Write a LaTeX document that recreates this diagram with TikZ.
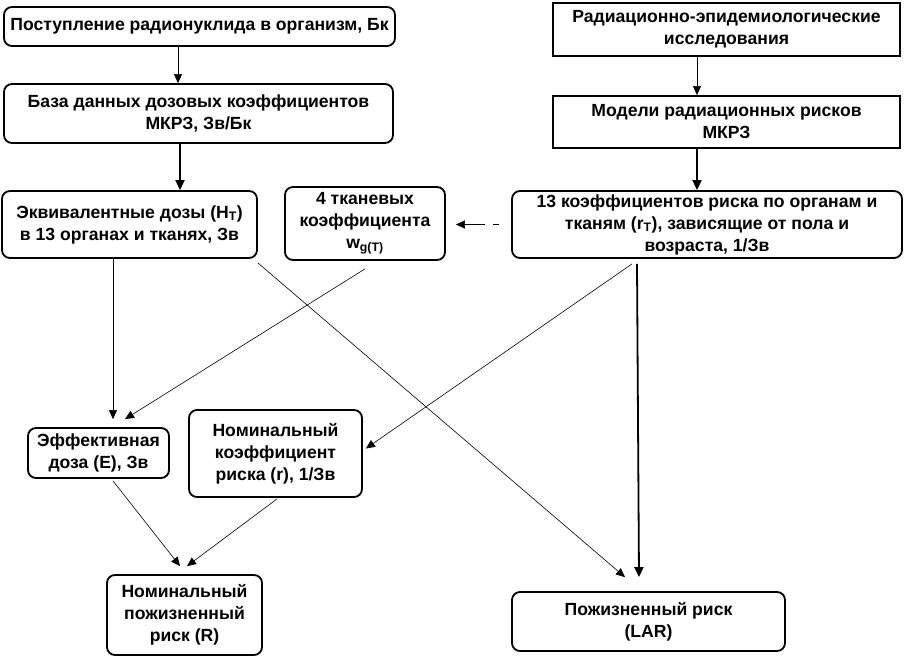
\documentclass[tikz,border=0pt]{standalone}
\usepackage{fontspec}
\setmainfont{Liberation Sans}
\usetikzlibrary{arrows.meta}
\begin{document}
\begin{tikzpicture}[x=1pt,y=-1pt,
  box/.style={draw, line width=1.8pt, rounded corners=8pt, align=center, inner sep=0pt,
    font=\bfseries\fontsize{17.6}{22}\selectfont},
  sbox/.style={box, rounded corners=0pt},
  arr/.style={-{Triangle[length=9pt,width=8pt]}, line width=0.6pt},
  tarr/.style={-{Triangle[length=10pt,width=9pt]}, line width=1.8pt},
  darr/.style={{Triangle[length=9pt,width=8pt]}-, line width=0.6pt, dash pattern=on 20pt off 8pt on 8pt off 10pt}]
\useasboundingbox (0,0) rectangle (904,662);
% boxes
\node[box, minimum width=391pt, minimum height=39pt] (b1) at (199.5,26.5) {Поступление радионуклида в организм, Бк};
\node[box, minimum width=389pt, minimum height=59pt] (b2) at (198.5,113.5) {База данных дозовых коэффициентов\\МКРЗ, Зв/Бк};
\node[sbox, minimum width=347pt, minimum height=53pt] (b3) at (726.5,29.5) {Радиационно-эпидемиологические\\исследования};
\node[sbox, minimum width=347pt, minimum height=52pt] (b4) at (726.5,122) {Модели радиационных рисков\\МКРЗ};
\node[box, minimum width=255pt, minimum height=67pt] (b5) at (129.5,224.5) {Эквивалентные дозы (H\textsubscript{T})\\в 13 органах и тканях, Зв};
\node[box, minimum width=160pt, minimum height=73pt] (b6) at (365,223.5) {4 тканевых\\коэффициента\\w\textsubscript{g(T)}};
\node[box, minimum width=390pt, minimum height=67pt] (b7) at (707,224.5) {13 коэффициентов риска по органам и\\тканям (r\textsubscript{T}), зависящие от пола и\\возраста, 1/Зв};
\node[box, minimum width=141pt, minimum height=50pt] (b8) at (98.5,453) {Эффективная\\доза (E), Зв};
\node[box, minimum width=173pt, minimum height=87pt] (b9) at (275.5,453.5) {Номинальный\\коэффициент\\риска (r), 1/Зв};
\node[box, minimum width=155pt, minimum height=80pt] (b10) at (184.5,615) {Номинальный\\пожизненный\\риск (R)};
\node[box, minimum width=273pt, minimum height=59pt] (b11) at (648.5,621.5) {Пожизненный риск\\(LAR)};
% connectors
\draw[arr] ([xshift=-21.5pt]b1.south) -- ([xshift=-20.5pt]b2.north);
\draw[tarr] ([xshift=-18.5pt]b2.south) -- ([xshift=50.5pt]b5.north);
\draw[arr] ([xshift=-29.5pt]b3.south) -- ([xshift=-29.5pt]b4.north);
\draw[tarr] ([xshift=-29.5pt]b4.south) -- ([xshift=-10pt]b7.north);
\draw[darr] ([xshift=10pt]b7.west -| b6.east) -- ([xshift=-12pt]b7.west);
\draw[arr] ([xshift=-16.5pt]b5.south) -- ([xshift=14.5pt,yshift=8pt]b8.north);
\draw[arr] ([yshift=-8pt]b6.south) -- ([xshift=26.5pt,yshift=8pt]b8.north);
\draw[arr] ([yshift=-4pt]b5.south east) -- ([xshift=-23.5pt,yshift=14pt]b11.north);
\draw[arr] ([xshift=-75pt,yshift=-5pt]b7.south) -- ([xshift=3pt,yshift=5pt]b9.east);
\draw[tarr] ([xshift=-70pt,yshift=-5pt]b7.south) -- ([xshift=-9.5pt,yshift=14pt]b11.north);
\draw[arr] ([xshift=14.5pt,yshift=-2pt]b8.south) -- ([xshift=-4.5pt,yshift=8pt]b10.north);
\draw[arr] ([xshift=1.5pt,yshift=-1pt]b9.south) -- ([xshift=2.5pt,yshift=8pt]b10.north);
\end{tikzpicture}
\end{document}
